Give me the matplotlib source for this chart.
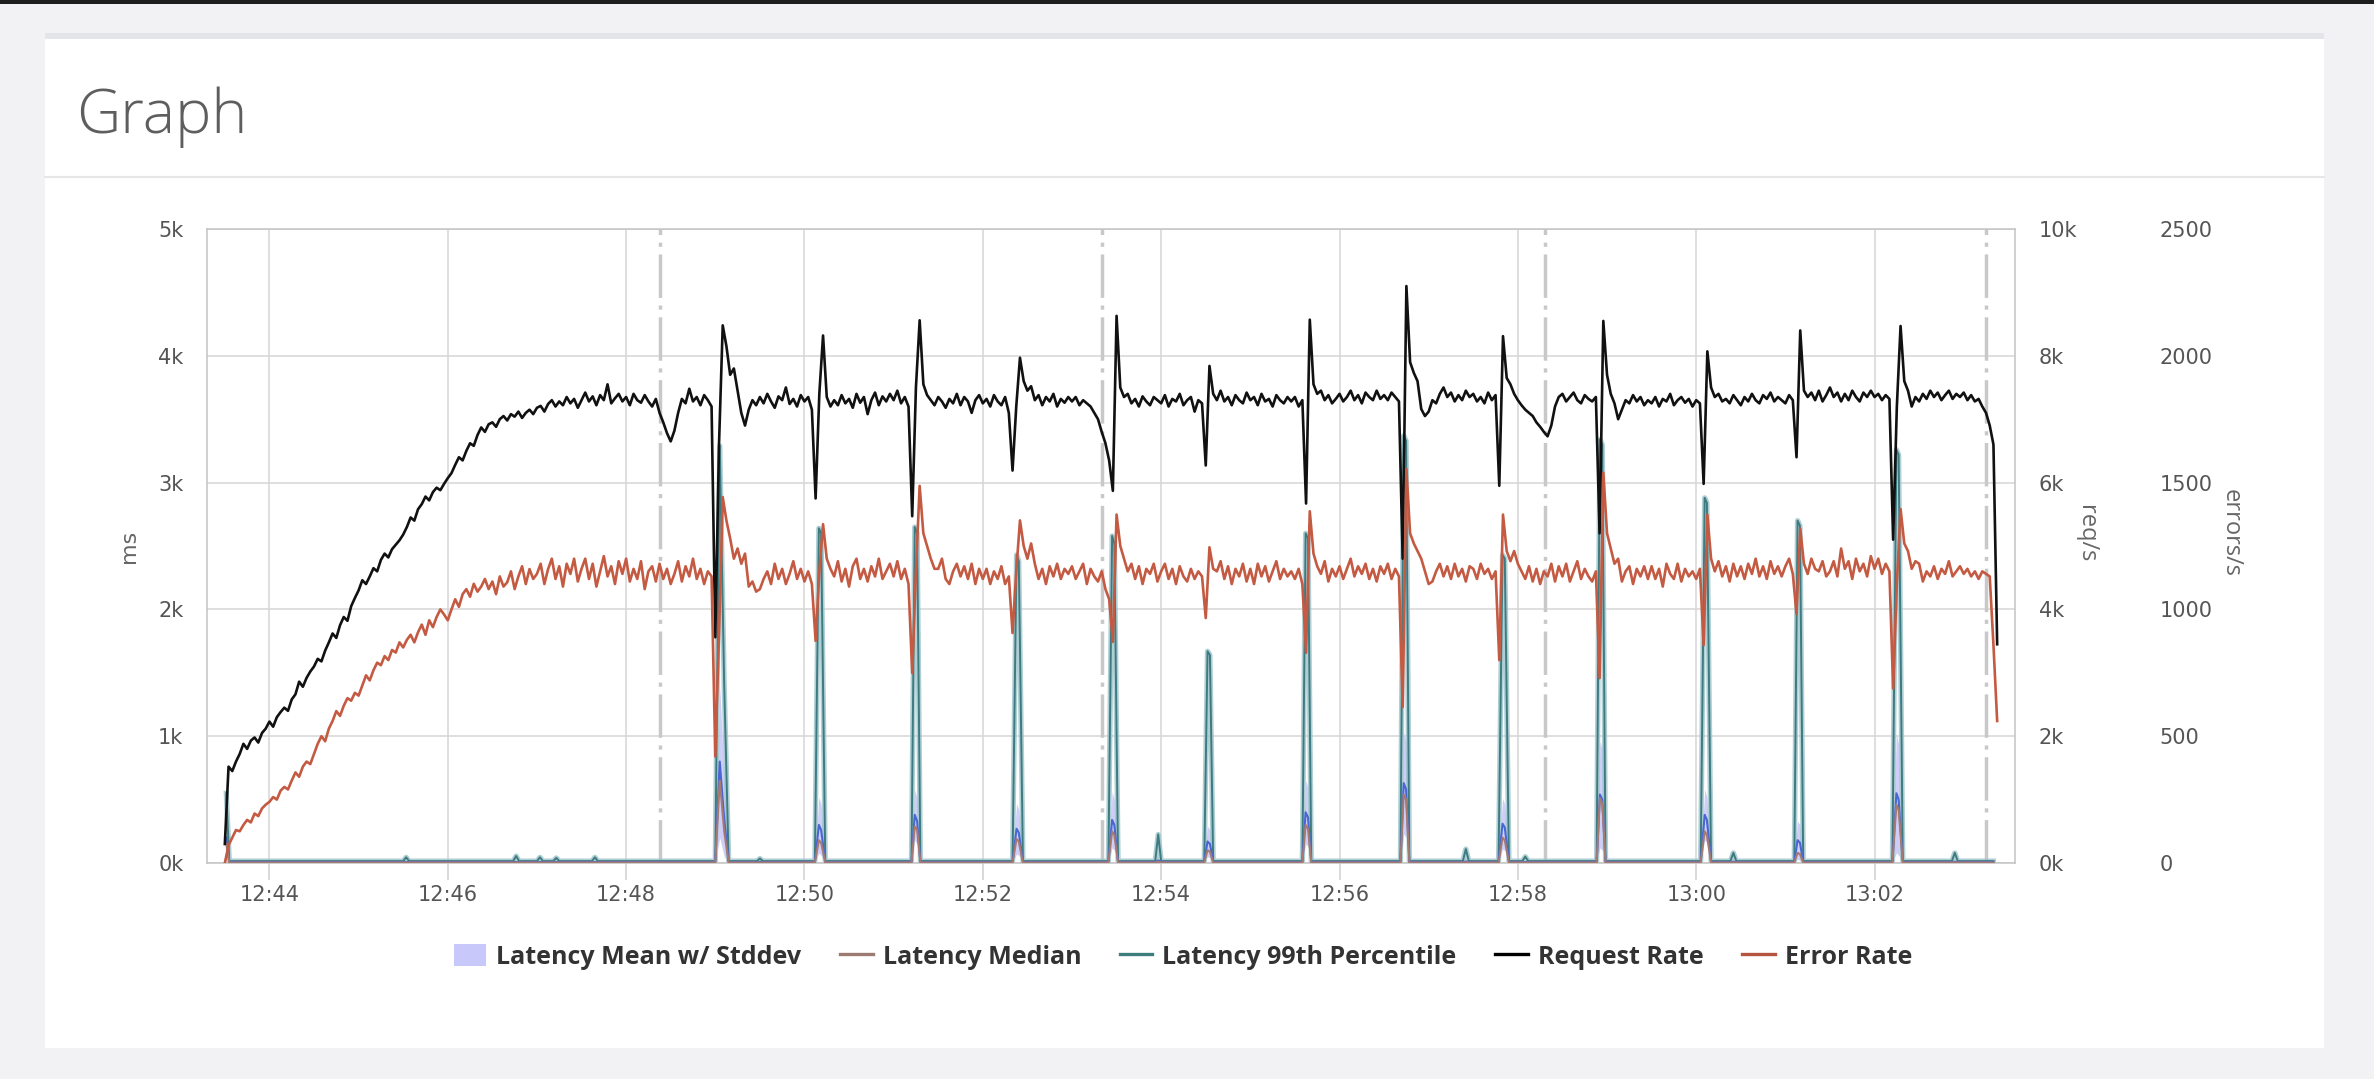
import numpy as np
import matplotlib
matplotlib.use('Agg')
import matplotlib.pyplot as plt
import matplotlib.dates as mdates
from matplotlib.lines import Line2D
from matplotlib.patches import Patch, Rectangle
from matplotlib.ticker import FixedLocator, FuncFormatter

# ---------------- data ----------------
# request rate / error rate sampled every 2.5 s, starting 12:43:30
# (time in seconds relative to 12:44:00); one row = 30 s
rate_start_sec = -30
rate_step_sec = 2.5

request_rate_k = [
    0.30, 1.52, 1.45, 1.60, 1.72, 1.88, 1.80, 1.93, 1.98, 1.90, 2.05, 2.12,
    2.23, 2.15, 2.30, 2.38, 2.45, 2.40, 2.58, 2.66, 2.86, 2.78, 2.92, 3.02,
    3.10, 3.22, 3.18, 3.35, 3.48, 3.62, 3.55, 3.75, 3.88, 3.82, 4.05, 4.18,
    4.30, 4.46, 4.40, 4.52, 4.65, 4.60, 4.78, 4.88, 4.82, 4.95, 5.02, 5.09,
    5.18, 5.30, 5.45, 5.40, 5.58, 5.66, 5.78, 5.72, 5.85, 5.92, 5.88, 5.98,
    6.07, 6.15, 6.28, 6.40, 6.35, 6.50, 6.62, 6.58, 6.75, 6.87, 6.80, 6.92,
    6.95, 6.88, 7.00, 7.05, 6.98, 7.08, 7.04, 7.12, 7.02, 7.10, 7.15, 7.08,
    7.18, 7.21, 7.12, 7.24, 7.30, 7.20, 7.28, 7.22, 7.35, 7.25, 7.32, 7.18,
    7.30, 7.42, 7.28, 7.36, 7.22, 7.38, 7.30, 7.55, 7.25, 7.33, 7.40, 7.28,
    7.35, 7.22, 7.40, 7.30, 7.26, 7.38, 7.28, 7.20, 7.32, 7.10, 6.95, 6.78,
    6.65, 6.82, 7.10, 7.32, 7.25, 7.48, 7.28, 7.35, 7.22, 7.38, 7.30, 7.20,
    3.56, 6.60, 8.48, 8.15, 7.70, 7.80, 7.45, 7.10, 6.90, 7.15, 7.30, 7.22,
    7.35, 7.25, 7.40, 7.28, 7.18, 7.36, 7.30, 7.50, 7.24, 7.32, 7.20, 7.38,
    7.28, 7.35, 7.15, 5.75, 7.40, 8.32, 7.35, 7.20, 7.30, 7.22, 7.38, 7.25,
    7.32, 7.18, 7.40, 7.26, 7.35, 7.08, 7.30, 7.42, 7.22, 7.36, 7.28, 7.40,
    7.30, 7.45, 7.25, 7.35, 7.20, 5.47, 7.50, 8.56, 7.55, 7.38, 7.30, 7.22,
    7.35, 7.28, 7.18, 7.32, 7.25, 7.40, 7.22, 7.35, 7.28, 7.10, 7.30, 7.38,
    7.25, 7.32, 7.20, 7.38, 7.28, 7.22, 7.35, 7.10, 6.19, 7.20, 7.97, 7.60,
    7.45, 7.52, 7.30, 7.38, 7.22, 7.35, 7.28, 7.40, 7.20, 7.32, 7.26, 7.35,
    7.28, 7.35, 7.22, 7.30, 7.25, 7.20, 7.10, 7.00, 6.80, 6.62, 6.35, 5.87,
    8.63, 7.50, 7.35, 7.40, 7.25, 7.32, 7.20, 7.36, 7.28, 7.22, 7.35, 7.30,
    7.25, 7.38, 7.20, 7.32, 7.28, 7.40, 7.22, 7.30, 7.35, 7.12, 7.30, 7.25,
    6.27, 7.84, 7.40, 7.30, 7.45, 7.28, 7.35, 7.22, 7.38, 7.30, 7.25, 7.42,
    7.30, 7.35, 7.22, 7.40, 7.28, 7.32, 7.20, 7.38, 7.30, 7.25, 7.35, 7.28,
    7.35, 7.20, 7.30, 5.67, 8.57, 7.55, 7.40, 7.45, 7.30, 7.38, 7.25, 7.32,
    7.40, 7.28, 7.35, 7.45, 7.30, 7.38, 7.25, 7.42, 7.35, 7.30, 7.45, 7.32,
    7.38, 7.30, 7.42, 7.35, 7.28, 4.80, 9.10, 7.90, 7.73, 7.60, 7.16, 7.05,
    7.12, 7.30, 7.25, 7.40, 7.50, 7.35, 7.42, 7.28, 7.38, 7.30, 7.45, 7.35,
    7.40, 7.28, 7.35, 7.25, 7.42, 7.30, 7.38, 5.95, 8.31, 7.65, 7.55, 7.40,
    7.30, 7.22, 7.15, 7.10, 7.05, 6.95, 6.88, 6.80, 6.73, 6.90, 7.20, 7.35,
    7.40, 7.28, 7.35, 7.42, 7.30, 7.25, 7.38, 7.32, 7.28, 7.35, 5.20, 8.55,
    7.70, 7.40, 7.25, 7.00, 7.15, 7.30, 7.25, 7.38, 7.28, 7.35, 7.22, 7.30,
    7.25, 7.35, 7.20, 7.32, 7.28, 7.40, 7.22, 7.30, 7.35, 7.26, 7.32, 7.20,
    7.30, 7.25, 5.98, 8.07, 7.50, 7.35, 7.40, 7.28, 7.32, 7.25, 7.38, 7.30,
    7.22, 7.35, 7.28, 7.40, 7.30, 7.25, 7.38, 7.32, 7.42, 7.28, 7.35, 7.30,
    7.25, 7.38, 7.30, 6.40, 8.40, 7.45, 7.35, 7.42, 7.30, 7.45, 7.28, 7.38,
    7.50, 7.35, 7.42, 7.28, 7.40, 7.30, 7.45, 7.35, 7.28, 7.42, 7.35, 7.45,
    7.35, 7.40, 7.30, 7.38, 7.32, 5.10, 7.20, 8.47, 7.60, 7.45, 7.20, 7.35,
    7.28, 7.40, 7.32, 7.45, 7.35, 7.42, 7.30, 7.38, 7.45, 7.32, 7.40, 7.35,
    7.42, 7.30, 7.38, 7.28, 7.32, 7.20, 7.10, 6.90, 6.60, 3.45,
]

error_rate = [
    0, 70, 100, 130, 125, 150, 170, 160, 195, 185, 215, 230,
    241, 260, 250, 285, 300, 290, 325, 357, 340, 380, 400, 390,
    430, 470, 500, 480, 530, 560, 599, 580, 620, 650, 640, 671,
    660, 700, 740, 720, 760, 790, 780, 816, 800, 840, 830, 870,
    850, 880, 900, 870, 910, 940, 900, 957, 930, 970, 1000, 980,
    957, 1000, 1040, 1010, 1060, 1080, 1050, 1101, 1070, 1090, 1120, 1080,
    1110, 1060, 1130, 1090, 1107, 1150, 1080, 1130, 1170, 1100, 1159, 1120,
    1140, 1180, 1100, 1159, 1200, 1120, 1170, 1090, 1180, 1140, 1200, 1110,
    1160, 1200, 1120, 1180, 1090, 1150, 1210, 1130, 1170, 1100, 1190, 1140,
    1200, 1110, 1160, 1120, 1190, 1080, 1150, 1170, 1110, 1180, 1120, 1160,
    1100, 1140, 1190, 1110, 1170, 1130, 1200, 1120, 1160, 1100, 1150, 1130,
    420, 900, 1443, 1350, 1280, 1200, 1240, 1180, 1220, 1090, 1110, 1070,
    1080, 1120, 1150, 1100, 1180, 1120, 1160, 1100, 1140, 1190, 1120, 1160,
    1110, 1150, 1100, 876, 1150, 1336, 1200, 1160, 1130, 1190, 1110, 1160,
    1090, 1170, 1200, 1120, 1160, 1110, 1170, 1130, 1200, 1120, 1150, 1180,
    1130, 1190, 1120, 1160, 1100, 749, 1150, 1487, 1300, 1250, 1200, 1160,
    1160, 1200, 1120, 1100, 1150, 1180, 1130, 1170, 1120, 1180, 1100, 1160,
    1120, 1160, 1100, 1150, 1120, 1170, 1100, 1130, 907, 1150, 1351, 1250,
    1200, 1260, 1180, 1120, 1160, 1100, 1170, 1130, 1180, 1120, 1160, 1140,
    1170, 1120, 1150, 1180, 1100, 1160, 1130, 1110, 1150, 1080, 1040, 872,
    1374, 1250, 1200, 1150, 1180, 1120, 1170, 1100, 1160, 1140, 1180, 1110,
    1150, 1180, 1120, 1160, 1100, 1170, 1130, 1110, 1160, 1120, 1150, 1130,
    966, 1245, 1160, 1150, 1190, 1120, 1170, 1100, 1160, 1130, 1180, 1110,
    1160, 1100, 1180, 1130, 1170, 1110, 1150, 1190, 1120, 1160, 1130, 1150,
    1120, 1160, 1100, 829, 1387, 1220, 1170, 1140, 1190, 1110, 1160, 1130,
    1170, 1120, 1160, 1200, 1130, 1170, 1140, 1180, 1120, 1160, 1110, 1170,
    1140, 1180, 1120, 1160, 1130, 615, 1553, 1300, 1260, 1230, 1200, 1150,
    1100, 1110, 1150, 1180, 1130, 1170, 1120, 1180, 1130, 1160, 1110, 1170,
    1160, 1120, 1180, 1140, 1160, 1120, 1150, 800, 1374, 1230, 1190, 1230,
    1180, 1150, 1120, 1170, 1110, 1160, 1100, 1150, 1130, 1180, 1110, 1170,
    1130, 1180, 1110, 1150, 1190, 1120, 1160, 1130, 1110, 1150, 729, 1539,
    1300, 1240, 1180, 1200, 1110, 1150, 1170, 1100, 1160, 1130, 1170, 1120,
    1170, 1120, 1160, 1090, 1180, 1140, 1120, 1180, 1110, 1160, 1130, 1150,
    1120, 1160, 859, 1374, 1200, 1150, 1190, 1130, 1170, 1110, 1180, 1130,
    1170, 1120, 1180, 1140, 1200, 1130, 1170, 1120, 1190, 1140, 1170, 1130,
    1170, 1200, 1140, 982, 1319, 1180, 1140, 1200, 1160, 1150, 1190, 1130,
    1150, 1190, 1130, 1240, 1160, 1190, 1120, 1200, 1150, 1180, 1130, 1210,
    1160, 1200, 1140, 1180, 1150, 688, 1100, 1396, 1260, 1230, 1160, 1190,
    1180, 1110, 1150, 1130, 1170, 1120, 1160, 1140, 1190, 1130, 1150, 1170,
    1140, 1160, 1130, 1150, 1120, 1150, 1140, 1130, 860, 560,
]

# latency samples (seconds relative to 12:44:00), ms
lat_sec = [
    -29, -27,
    90, 92, 94, 164, 166, 168, 180, 182, 184, 191, 193, 195, 217, 219, 221,
    300, 303, 306, 309,
    328, 330, 332,
    367, 369.7, 371.2, 374, 432, 434.2, 435.8, 438, 500, 502.7, 504.2, 507,
    564.5, 567, 568.5, 571,
    596, 598, 600,
    629, 631.2, 632.8, 635, 695, 697.2, 698.8, 701, 761, 763.2, 764.8, 767,
    803, 805, 807,
    827, 829.7, 831.2, 834,
    843, 845, 847,
    893, 895.2, 896.8, 899, 963, 965.7, 967.2, 970,
    983, 985, 987,
    1026, 1028.2, 1029.8, 1032, 1092, 1094.7, 1096.2, 1099,
    1132, 1134, 1136,
    1160,
]
lat_p99 = [
    550, 15,
    15, 45, 15, 15, 55, 15, 15, 45, 15, 15, 40, 15, 15, 45, 15,
    15, 3290, 1400, 15,
    15, 35, 15,
    15, 2640, 2600, 15, 15, 2650, 2600, 15, 15, 2430, 2380, 15,
    15, 2580, 2520, 15,
    15, 225, 15,
    15, 1670, 1640, 15, 15, 2600, 2560, 15, 15, 3370, 3330, 15,
    15, 110, 15,
    15, 2430, 2400, 15,
    15, 50, 15,
    15, 3340, 3300, 15, 15, 2880, 2840, 15,
    15, 80, 15,
    15, 2700, 2660, 15, 15, 3260, 3220, 15,
    15, 80, 15,
    15,
]
lat_mean = [
    200, 8,
    8, 8, 8, 8, 8, 8, 8, 8, 8, 8, 8, 8, 8, 8, 8,
    8, 800, 350, 8,
    8, 8, 8,
    8, 300, 260, 8, 8, 380, 330, 8, 8, 270, 240, 8,
    8, 340, 300, 8,
    8, 20, 8,
    8, 170, 150, 8, 8, 400, 360, 8, 8, 630, 580, 8,
    8, 12, 8,
    8, 310, 280, 8,
    8, 8, 8,
    8, 540, 500, 8, 8, 380, 340, 8,
    8, 10, 8,
    8, 180, 160, 8, 8, 550, 500, 8,
    8, 10, 8,
    8,
]
lat_std = [
    150, 5,
    5, 5, 5, 5, 5, 5, 5, 5, 5, 5, 5, 5, 5, 5, 5,
    5, 600, 300, 5,
    5, 5, 5,
    5, 220, 200, 5, 5, 200, 180, 5, 5, 200, 180, 5,
    5, 220, 200, 5,
    5, 20, 5,
    5, 120, 110, 5, 5, 250, 230, 5, 5, 400, 380, 5,
    5, 10, 5,
    5, 200, 180, 5,
    5, 5, 5,
    5, 420, 400, 5, 5, 200, 180, 5,
    5, 8, 5,
    5, 150, 140, 5, 5, 470, 440, 5,
    5, 8, 5,
    5,
]
lat_median = [
    150, 4,
    4, 4, 4, 4, 4, 4, 4, 4, 4, 4, 4, 4, 4, 4, 4,
    4, 650, 250, 4,
    4, 4, 4,
    4, 180, 160, 4, 4, 290, 260, 4, 4, 190, 170, 4,
    4, 250, 220, 4,
    4, 10, 4,
    4, 100, 90, 4, 4, 300, 270, 4, 4, 540, 500, 4,
    4, 6, 4,
    4, 200, 180, 4,
    4, 4, 4,
    4, 510, 470, 4, 4, 250, 220, 4,
    4, 5, 4,
    4, 80, 70, 4, 4, 460, 420, 4,
    4, 5, 4,
    4,
]

# dash-dot stage markers (seconds relative to 12:44:00)
marker_sec = [263, 560, 858, 1155]

ms_ticks = [0, 1000, 2000, 3000, 4000, 5000]
req_ticks_k = [0, 2, 4, 6, 8, 10]
err_ticks = [0, 500, 1000, 1500, 2000, 2500]

legend_labels = ['Latency Mean w/ Stddev', 'Latency Median', 'Latency 99th Percentile',
                 'Request Rate', 'Error Rate']

# ---------------- helpers ----------------
BASE = np.datetime64('2024-01-01T12:44:00')


def tt(sec):
    ms = np.round(np.asarray(sec, dtype=float) * 1000).astype('int64')
    return BASE + ms.astype('timedelta64[ms]')


W, H, DPI = 2374, 1079, 100
fig = plt.figure(figsize=(W / DPI, H / DPI), dpi=DPI)
fig.patch.set_facecolor('#f2f2f4')

# page decorations
fig.patches.append(Rectangle((0, 1 - 4 / H), 1, 4 / H, transform=fig.transFigure,
                             facecolor='#1e1e1e', edgecolor='none', zorder=-10))
fig.patches.append(Rectangle((45 / W, 1 - 1048 / H), (2324 - 45) / W, (1048 - 33) / H,
                             transform=fig.transFigure, facecolor='white',
                             edgecolor='none', zorder=-10))
fig.patches.append(Rectangle((45 / W, 1 - 39 / H), (2324 - 45) / W, 6 / H,
                             transform=fig.transFigure, facecolor='#e4e5e9',
                             edgecolor='none', zorder=-9))
fig.lines.append(Line2D([45 / W, 2324 / W], [1 - 177 / H, 1 - 177 / H],
                        transform=fig.transFigure, color='#e6e6e9', lw=1.5, zorder=-8))

fig.text(76 / W, 1 - 133 / H, 'Graph', fontsize=44, family='Open Sans',
         fontweight='light', color='#5e5e5e', va='baseline', ha='left')

# axes
L, R, T, B = 207, 2015, 229, 863
ax = fig.add_axes([L / W, 1 - B / H, (R - L) / W, (B - T) / H])
ax.set_facecolor('none')
ax2 = ax.twinx()
ax3 = ax.twinx()

rate_sec = np.arange(len(request_rate_k)) * rate_step_sec + rate_start_sec
rate_t = tt(rate_sec)
lat_t = tt(lat_sec)

mean = np.array(lat_mean, dtype=float)
std = np.array(lat_std, dtype=float)
lower = np.clip(mean - std, 0, None)
upper = mean + std

ax.fill_between(lat_t, lower, upper, color='#c9c9f8', alpha=0.9, lw=0, zorder=2)
ax.plot(lat_t, lat_p99, color='#9cc4cb', lw=3.8, alpha=0.8, zorder=2.5,
        solid_joinstyle='round')
ax.plot(lat_t, lat_p99, color='#3d7b81', lw=1.4, zorder=2.6)
ax.plot(lat_t, lat_mean, color='#4a66d4', lw=1.5, zorder=3)
ax.plot(lat_t, lat_median, color='#a67a70', lw=1.5, zorder=3.5)

for s in marker_sec:
    ax.axvline(tt(s), color='#c8c8c8', lw=2.5, ls=(0, (12.5, 2.2, 1.2, 2.2)), zorder=1.5)

ax2.plot(rate_t, request_rate_k, color='#111111', lw=1.9, zorder=3)
ax3.plot(rate_t, error_rate, color='#c45a42', lw=1.9, zorder=3)

# limits and ticks
ax.set_xlim(tt(-42), tt(1174.5))
ax.set_ylim(0, 5000)
ax2.set_ylim(0, 10)
ax3.set_ylim(0, 2500)

ax.xaxis.set_major_locator(mdates.MinuteLocator(byminute=range(0, 60, 2)))
ax.xaxis.set_major_formatter(mdates.DateFormatter('%H:%M'))
ax.yaxis.set_major_locator(FixedLocator(ms_ticks))
ax.yaxis.set_major_formatter(FuncFormatter(lambda v, p: f'{int(round(v / 1000))}k'))
ax2.yaxis.set_major_locator(FixedLocator(req_ticks_k))
ax2.yaxis.set_major_formatter(FuncFormatter(lambda v, p: f'{int(round(v))}k'))
ax3.yaxis.set_major_locator(FixedLocator(err_ticks))
ax3.yaxis.set_major_formatter(FuncFormatter(lambda v, p: f'{int(round(v))}'))

tick_color = '#555555'
ax.tick_params(axis='x', length=12, width=1.1, color='#cfcfcf', pad=4,
               labelsize=15, labelcolor=tick_color)
ax.tick_params(axis='y', length=0, pad=17, labelsize=15, labelcolor=tick_color)
ax2.tick_params(axis='y', length=0, pad=17, labelsize=15, labelcolor=tick_color)
ax3.tick_params(axis='y', length=0, pad=104, labelsize=15, labelcolor=tick_color)

ax.grid(True, color='#d6d6d6', lw=1.1)
ax.set_axisbelow(True)
for sp in ax.spines.values():
    sp.set_color('#c3c3c3')
    sp.set_linewidth(1.1)
for a in (ax2, ax3):
    for sp in a.spines.values():
        sp.set_visible(False)

ax.set_ylabel('ms', fontsize=16, color='#666666', va='center', ha='center')
ax.yaxis.set_label_coords(-0.0431, 0.5)
ax2.set_ylabel('req/s', fontsize=17, family='Open Sans', color='#666666',
               rotation=270, va='center', ha='center')
ax2.yaxis.set_label_coords(1.0393, 0.52)
ax3.set_ylabel('errors/s', fontsize=17, family='Open Sans', color='#666666',
               rotation=270, va='center', ha='center')
ax3.yaxis.set_label_coords(1.119, 0.52)

handles = [
    Patch(facecolor='#c8c8fa', edgecolor='none'),
    Line2D([], [], color='#9c7b72', lw=2.4),
    Line2D([], [], color='#3e7d7d', lw=2.4),
    Line2D([], [], color='#000000', lw=2.4),
    Line2D([], [], color='#b5543f', lw=2.4),
]
fig.legend(handles, legend_labels, loc='center', bbox_to_anchor=(1183 / W, 1 - 957 / H),
           ncol=5, frameon=False,
           prop={'family': 'Open Sans', 'weight': 'bold', 'size': 18},
           handlelength=1.3, handleheight=0.95, handletextpad=0.4,
           columnspacing=1.55, labelcolor='#333333')

fig.savefig('out.png', dpi=DPI, facecolor=fig.get_facecolor())
